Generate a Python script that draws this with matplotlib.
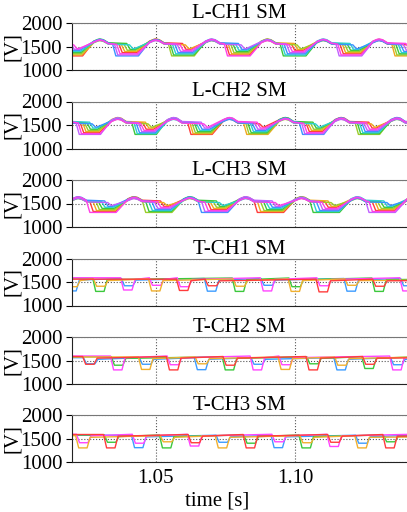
import numpy as np
import matplotlib
matplotlib.use("Agg")
import matplotlib.pyplot as plt

plt.rcParams['font.family'] = ['Liberation Serif', 'DejaVu Serif']

# ---------------- data ----------------
titles = ["L-CH1 SM", "L-CH2 SM", "L-CH3 SM", "T-CH1 SM", "T-CH2 SM", "T-CH3 SM"]
y_ticks = [1000, 1500, 2000]
y_tick_labels = ["1000", "1500", "2000"]
x_ticks = [1.05, 1.10]
x_tick_labels = ["1.05", "1.10"]
x_label = "time [s]"
y_label = "[V]"
x_range = (1.02, 1.14)
y_range = (1000, 2000)
period = 0.02

# L-arm submodules (8 per arm), one period
L_colors = ["#ff3b3b", "#f0a81e", "#9ccc2a", "#3cc83c", "#2ccfcf",
            "#3a92ff", "#c060ff", "#ff40e6"]
L_first_peak = [1.0300, 1.0364, 1.0222]
L_peak_v = [[1655, 1645, 1635, 1650, 1625, 1640, 1660, 1630],
            [1650, 1640, 1630, 1655, 1620, 1645, 1660, 1625],
            [1640, 1625, 1615, 1635, 1605, 1630, 1645, 1610]]
L_plat_v = [[1575, 1565, 1560, 1570, 1555, 1565, 1580, 1550],
            [1570, 1560, 1550, 1565, 1545, 1560, 1575, 1540],
            [1565, 1555, 1545, 1560, 1540, 1555, 1570, 1535]]
L_drop_phi = [[0.0045, 0.0052, 0.0060, 0.0068, 0.0077, 0.0086, 0.0096, 0.0106],
              [0.0050, 0.0058, 0.0066, 0.0074, 0.0082, 0.0090, 0.0099, 0.0108],
              [0.0030, 0.0042, 0.0054, 0.0064, 0.0074, 0.0084, 0.0095, 0.0106]]
L_low_v = [[1300, 1320, 1345, 1370, 1395, 1420, 1440, 1455],
           [1300, 1315, 1335, 1360, 1385, 1410, 1435, 1455],
           [1310, 1330, 1350, 1370, 1395, 1420, 1440, 1460]]
L_rise_phi = [[0.0138, 0.0136, 0.0134, 0.0132, 0.0130, 0.0128, 0.0126, 0.0124],
              [0.0138, 0.0136, 0.0134, 0.0132, 0.0130, 0.0128, 0.0126, 0.0124],
              [0.0136, 0.0134, 0.0132, 0.0130, 0.0128, 0.0126, 0.0124, 0.0122]]
L_rotation = [[0, 3, 6, 1, 5, 2, 7, 4],
              [2, 5, 0, 7, 3, 6, 1, 4],
              [4, 1, 6, 3, 0, 5, 2, 7]]

# T-arm submodules (5 per arm): dips every 0.01 s
T_colors = ["#3c9cff", "#3cc83c", "#ff44ff", "#f0b030", "#ff3c3c"]
T_hi_v = [[1575, 1585, 1590, 1565, 1560],
          [1560, 1580, 1595, 1575, 1585],
          [1570, 1575, 1590, 1560, 1585]]
T_slot_start = [1.0200, 1.0264, 1.0239]
T_slot_step = 0.01
T_deep_sm = [[0, 1, 2, 3, 4, 0, 1, 2, 3, 4, 0, 1, 2],
             [4, 2, 3, 4, 0, 1, 2, 3, 4, 0, 1, 2, 3],
             [3, 4, 0, 1, 2, 3, 4, 0, 1, 2, 3, 4, 0]]
T_deep_v = [[1310, 1300, 1330, 1310, 1320, 1305, 1300, 1310, 1300, 1290, 1305, 1300, 1310],
            [1420, 1300, 1310, 1300, 1305, 1300, 1300, 1310, 1300, 1300, 1330, 1300, 1305],
            [1300, 1300, 1305, 1300, 1340, 1300, 1300, 1305, 1300, 1330, 1300, 1300, 1305]]
T_shal_sm = [[3, 3, 0, 2, 2, 4, 3, 0, 1, 2, 3, 4, 0],
             [0, 1, 0, 2, 3, 4, 0, 2, 1, 3, 4, 0, 1],
             [2, 1, 2, 3, 4, 0, 1, 2, 3, 4, 0, 1, 2]]
T_shal_v = [[1400, 1410, 1420, 1430, 1400, 1420, 1410, 1430, 1400, 1420, 1430, 1410, 1420],
            [1430, 1400, 1420, 1410, 1430, 1400, 1420, 1410, 1430, 1400, 1420, 1410, 1430],
            [1410, 1420, 1400, 1430, 1410, 1420, 1400, 1430, 1410, 1420, 1400, 1430, 1410]]
T_recover_drop = 35   # level just after a dip is this far below the high level

FS = 15

# ---------------- figure ----------------
W, H = 407, 512
fig = plt.figure(figsize=(W / 100, H / 100), dpi=100)
ax_left = 72 / W
ax_width = (W - 72) / W
ax_h = 47 / H
tops = [23, 101.5, 180, 258.5, 337, 415]

axes = []
for i, top in enumerate(tops):
    ax = fig.add_axes([ax_left, 1 - (top + 47) / H, ax_width, ax_h])
    axes.append(ax)

# L panels
for p in range(3):
    ax = axes[p]
    n = len(L_colors)
    rot = L_rotation[p]
    for i in range(n):
        ts, vs = [], []
        for k in range(-1, 7):
            j = (i + rot[k + 1]) % n
            jn = (i + rot[(k + 2) % len(rot)]) % n
            t0 = L_first_peak[p] + k * period
            pk = L_peak_v[p][j]
            pkn = L_peak_v[p][jn]
            ts += [t0, t0 + 0.0012, t0 + 0.0030, t0 + L_drop_phi[p][j],
                   t0 + L_drop_phi[p][j] + 0.0012, t0 + L_rise_phi[p][j],
                   t0 + 0.0178, t0 + 0.0193]
            vs += [pk, pk - 15, L_plat_v[p][j], L_plat_v[p][j] - 15,
                   L_low_v[p][j], L_low_v[p][j],
                   pkn - 45, pkn - 8]
        ax.plot(ts, vs, color=L_colors[i], lw=1.0)

# T panels
for p in range(3):
    ax = axes[3 + p]
    n = len(T_colors)
    events = [[] for _ in range(n)]
    for s in range(len(T_deep_sm[p])):
        c = T_slot_start[p] + s * T_slot_step
        events[T_deep_sm[p][s]].append((c, T_deep_v[p][s]))
        events[T_shal_sm[p][s]].append((c + 0.0003, T_shal_v[p][s]))
    for i in range(n):
        hi = T_hi_v[p][i]
        ts, vs = [1.0], [hi]
        for c, v in sorted(events[i]):
            ts += [c - 0.0026, c - 0.0015, c + 0.0015, c + 0.0026]
            vs += [hi, v, v, hi - T_recover_drop]
        ts.append(1.2)
        vs.append(hi)
        ax.plot(ts, vs, color=T_colors[i], lw=1.0)

for i, ax in enumerate(axes):
    ax.set_xlim(*x_range)
    ax.set_ylim(*y_range)
    ax.set_yticks(y_ticks)
    ax.set_yticklabels(y_tick_labels)
    ax.set_xticks(x_ticks)
    if i == len(axes) - 1:
        ax.set_xticklabels(x_tick_labels)
        ax.set_xlabel(x_label, fontsize=FS)
        ax.xaxis.set_label_coords((217 - 72) / 335, -0.62)
    else:
        ax.set_xticklabels([])
    ax.tick_params(axis='y', direction='out', length=4, width=0.8,
                   labelsize=FS, pad=3)
    ax.tick_params(axis='x', length=0, labelsize=FS, pad=5)
    ax.grid(True, linestyle=':', color='#555555', lw=0.8)
    ax.set_axisbelow(True)
    ax.spines['right'].set_visible(False)
    ax.spines['top'].set_color('#777777')
    for s in ['left', 'bottom']:
        ax.spines[s].set_color('#222222')
    ax.set_title(titles[i], fontsize=FS, pad=2)
    ax.set_ylabel(y_label, fontsize=FS)
    ax.yaxis.set_label_coords((22 - 72) / 335, 0.5)

fig.savefig("out.png", dpi=100)
